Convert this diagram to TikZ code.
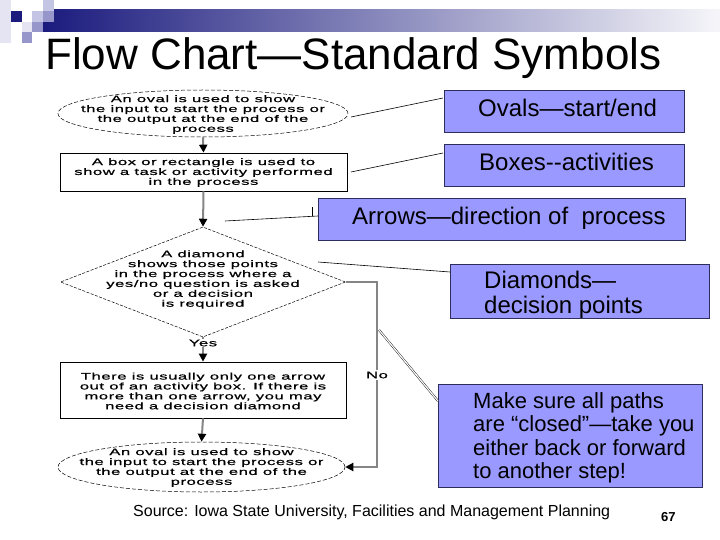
\documentclass[tikz,border=0pt]{standalone}
\usepackage{fontspec}
\setmainfont{Liberation Sans}
\newfontfamily\chartfont[FakeStretch=1.75,FakeBold=0.7,LetterSpace=6]{Liberation Sans}
\usetikzlibrary{shapes.geometric,arrows.meta}
\definecolor{callfill}{HTML}{9999FF}
\definecolor{callborder}{HTML}{2E2E5C}
\definecolor{navy}{HTML}{1B1B7E}
\definecolor{sqlight}{HTML}{E4E4F2}
\definecolor{sqmid}{HTML}{C4C4E4}
\definecolor{sqdark}{HTML}{9696CA}
\definecolor{flowgray}{HTML}{858585}
\tikzset{
 chart/.style={font=\chartfont\fontsize{9.5}{9.9}\selectfont, align=center, inner sep=0pt},
 ovalshape/.style={ellipse, draw, dash pattern=on 4pt off 2pt, line width=0.5pt, minimum width=290pt, minimum height=47pt, inner sep=0pt},
 diashape/.style={diamond, draw, dash pattern=on 3pt off 1.5pt, line width=0.5pt, minimum width=285pt, minimum height=110pt, inner sep=0pt},
 boxshape/.style={rectangle, draw, line width=0.7pt, inner sep=0pt},
 flowline/.style={draw=flowgray, line width=2pt},
 flowarrow/.style={flowline, -{Triangle[length=8pt,width=8pt,black]}},
 callout/.style={rectangle, draw=callborder, fill=callfill, line width=0.8pt, inner sep=0pt},
 calltext/.style={anchor=base west, inner sep=0pt, font=\fontsize{24}{26}\selectfont},
 pointer/.style={draw=black, line width=0.6pt}
}
\begin{document}
\begin{tikzpicture}[x=1pt,y=-1pt]
\useasboundingbox (0,0) rectangle (720,540);
\fill[white] (0,0) rectangle (720,540);
% header decoration
\shade[left color=navy, right color=navy!4] (43,10) rectangle (720,32);
\fill[sqlight] (0,0) rectangle (10.8,43);
\fill[navy] (10.8,10.8) rectangle (21.6,21.6);
\fill[sqmid] (32.4,10.8) rectangle (43.2,21.6);
\fill[sqmid] (43.2,0) rectangle (54,10.8);
\fill[sqdark] (43.2,10.8) rectangle (54,21.6);
\fill[sqlight] (21.6,21.6) rectangle (32.4,32.4);
\fill[sqdark] (32.4,21.6) rectangle (43.2,32.4);
\fill[sqdark] (21.6,32.4) rectangle (32.4,43.2);
% title
\node[anchor=base west, inner sep=0pt, font=\fontsize{44}{48}\selectfont] (title) at (45,70) {Flow Chart—Standard Symbols};
% flowchart shapes
\node[ovalshape] (o1) at (203,113.5) {};
\node[chart] (o1t) at (203,114.5) {An oval is used to show\\the input to start the process or\\the output at the end of the\\process};
\node[boxshape, minimum width=287pt, minimum height=38pt] (b1) at (203.5,172) {};
\node[chart] (b1t) at (203.5,172.5) {A box or rectangle is used to\\show a task or activity performed\\in the process};
\node[diashape] (d) at (203,282) {};
\node[chart] (dt) at (203,279.5) {A diamond\\shows those points\\in the process where a\\yes/no question is asked\\or a decision\\is required};
\node[chart] (yes) at (203,343) {Yes};
\node[boxshape, minimum width=286pt, minimum height=56pt] (b2) at (203,390) {};
\node[chart] (b2t) at (203,391) {There is usually only one arrow\\out of an activity box. If there is\\more than one arrow, you may\\need a decision diamond};
\node[ovalshape, minimum width=287pt, minimum height=50pt] (o2) at (201.5,467) {};
\node[chart] (o2t) at (201.5,467.5) {An oval is used to show\\the input to start the process or\\the output at the end of the\\process};
% flow connectors
\draw[flowarrow] (o1.south) -- (b1.north);
\draw[flowarrow] (b1.south) -- (d.north);
\draw[flowline] (d.south) -- (yes.north);
\draw[flowarrow] (yes.south) -- (b2.north);
\draw[flowarrow] (b2.south) -- (o2.north);
\coordinate (n1) at (377,282);
\coordinate (n2) at (377,467);
\draw[flowarrow] (d.east) -- (n1) -- (n2) -- (o2.east);
\node[chart, fill=white, inner sep=2pt] (no) at (377,375) {No};
% callouts
\node[callout, minimum width=240pt, minimum height=42pt] (cov) at (564,111) {};
\node[calltext] (covt) at (478,116.5) {Ovals—start/end};
\node[callout, minimum width=240pt, minimum height=42pt] (cbx) at (564,165) {};
\node[calltext] (cbxt) at (479,170.5) {Boxes-{}-activities};
\node[callout, minimum width=367pt, minimum height=42pt] (car) at (501.5,219) {};
\node[calltext] (cart) at (352,224.5) {Arrows—direction of\ \ process};
\node[callout, minimum width=259pt, minimum height=54pt] (cdi) at (579.5,291) {};
\node[calltext] (cdit1) at (484,288.5) {Diamonds—};
\node[calltext] (cdit2) at (484,313.5) {decision points};
\node[callout, minimum width=264pt, minimum height=103pt] (cms) at (570,435.5) {};
\node[calltext, font=\fontsize{22}{24}\selectfont] (cms1) at (473,408) {Make sure all paths};
\node[calltext, font=\fontsize{22}{24}\selectfont] (cms2) at (473,431.5) {are “closed”—take you};
\node[calltext, font=\fontsize{22}{24}\selectfont] (cms3) at (473,455) {either back or forward};
\node[calltext, font=\fontsize{22}{24}\selectfont] (cms4) at (473,478.5) {to another step!};
% pointer lines
\coordinate (p1a) at (351,117);
\coordinate (p1b) at (443,98);
\draw[pointer] (p1a) -- (p1b);
\coordinate (p2a) at (351,172);
\coordinate (p2b) at (443,153);
\draw[pointer] (p2a) -- (p2b);
\coordinate (p3a) at (225,221);
\coordinate (p3b) at (318,216);
\coordinate (p3c) at (312,216.3);
\coordinate (p3d) at (312,207);
\draw[pointer] (p3a) -- (p3b);
\draw[pointer] (p3c) -- (p3d);
\coordinate (p4a) at (318,262);
\coordinate (p4b) at (450,272);
\draw[pointer] (p4a) -- (p4b);
\coordinate (p5a) at (379,330);
\coordinate (p5b) at (438,401);
\draw[black, line width=0.4pt, double=white, double distance=1.2pt] (p5a) -- (p5b);
% footer
\node[anchor=base west, inner sep=0pt, font=\fontsize{16}{18}\selectfont] (src) at (133,516) {Source: Iowa State University, Facilities and Management Planning};
\node[anchor=base west, inner sep=0pt, font=\bfseries\fontsize{13}{15}\selectfont] (pg) at (661,521) {67};
\end{tikzpicture}
\end{document}
